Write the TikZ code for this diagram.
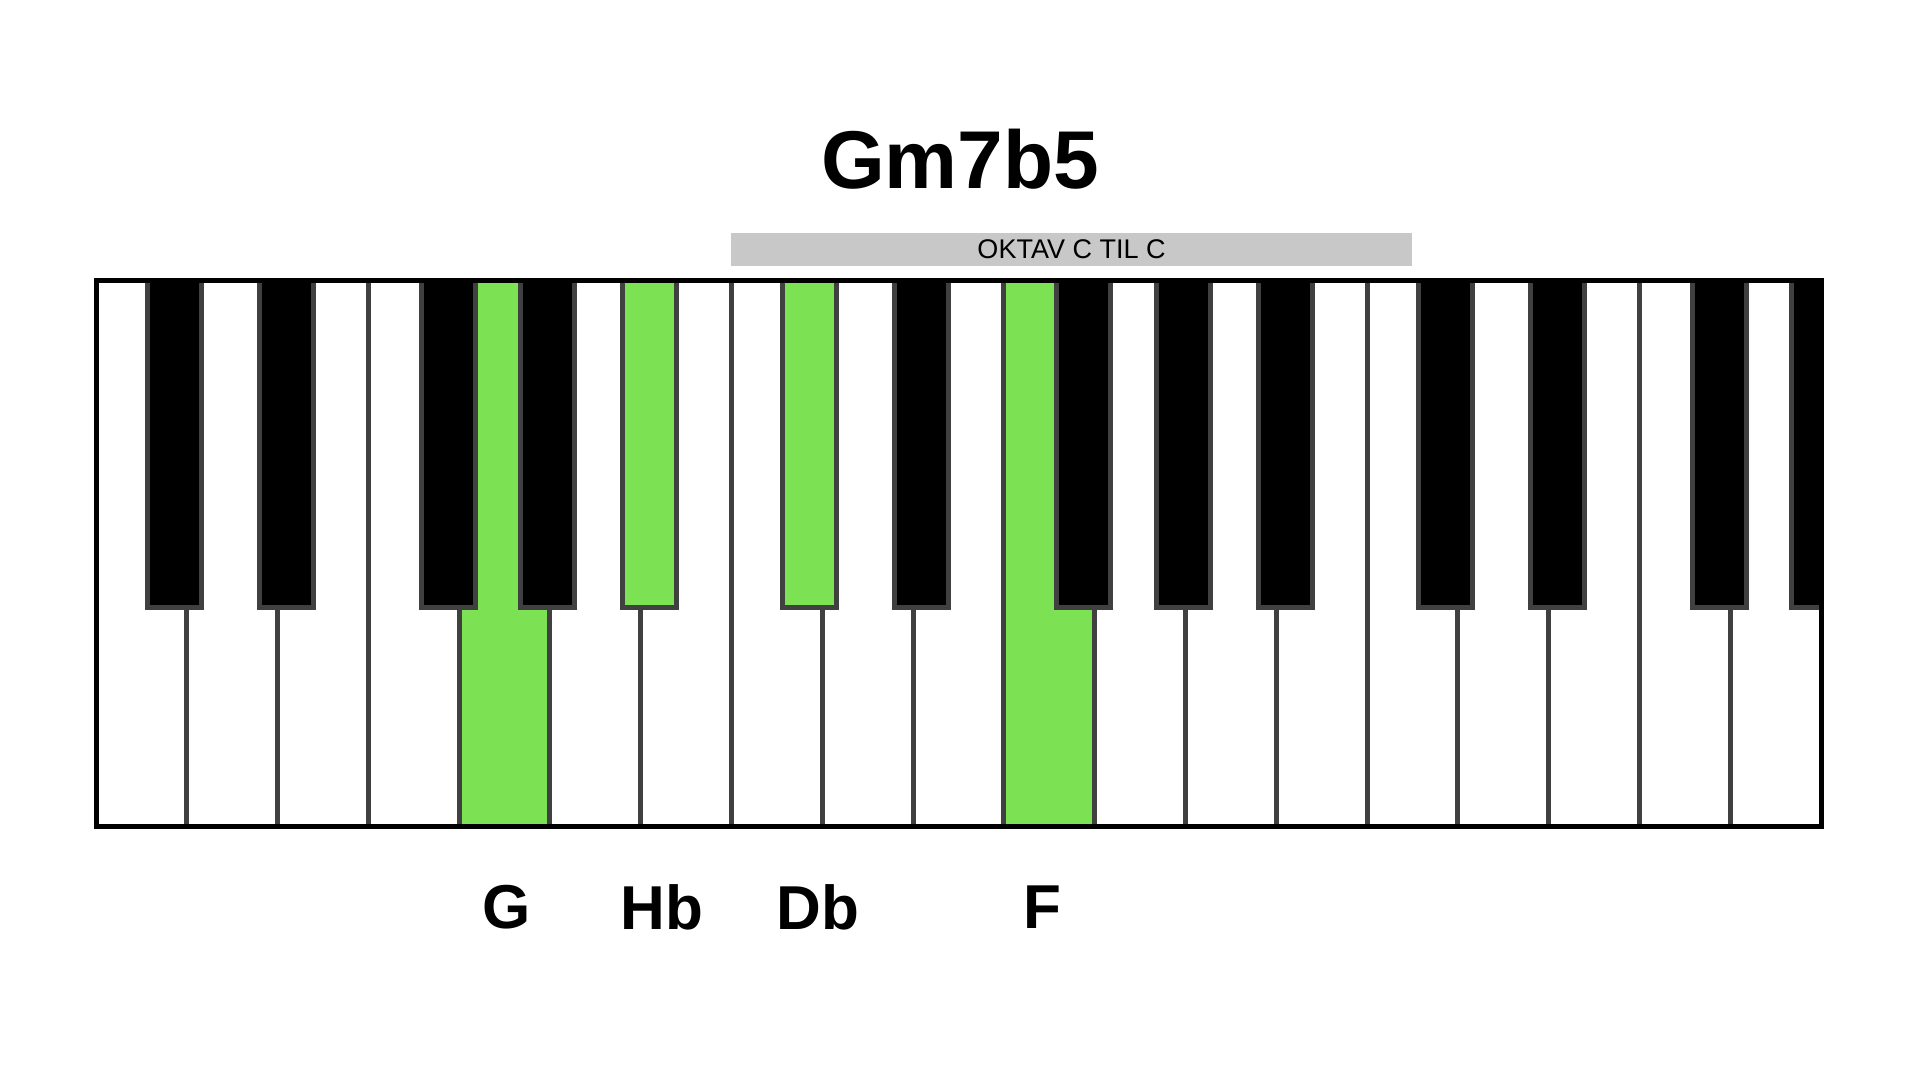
\documentclass[tikz,border=0pt]{standalone}
\usepackage{fontspec}
\setmainfont{Liberation Sans}
\usepackage{tikz}

\definecolor{keygreen}{RGB}{125,226,83}
\definecolor{keyline}{RGB}{64,64,64}
\definecolor{bargray}{RGB}{200,200,200}

\tikzset{
  divider/.style={draw=keyline, line width=5pt},
  blackkey/.style={draw=keyline, line width=5pt, fill=black},
  notelabel/.style={font=\fontsize{62}{62}\selectfont\bfseries, inner sep=0pt},
}

\begin{document}
\begin{tikzpicture}[x=1pt, y=-1pt]
  \useasboundingbox (0,0) rectangle (1920,1080);

  % white keys, G and F marked
  \fill[white] (96,280.5) rectangle (1821,826.5);
  \foreach \k in {4,10}
    \fill[keygreen] ({96+\k*90.79},280.5) rectangle ++(90.79,546);
  \foreach \k in {1,...,18}
    \draw[divider] ({96+\k*90.79},280.5) -- ++(0,546);

  % black keys, Hb and Db marked
  \begin{scope}
    \clip (96,280.5) rectangle (1821,826.5);
    \foreach \k/\dx/\col in {1/-12.5/black, 2/8.7/black, 4/-10.8/black, 5/-2.2/black,
        6/9.2/keygreen, 8/-12.5/keygreen, 9/8.7/black, 11/-10.8/black, 12/-2.2/black,
        13/9.2/black, 15/-12.5/black, 16/8.7/black, 18/-10.8/black, 19/-2.2/black}
      \draw[blackkey, fill=\col] ({96+\k*90.79+\dx-27},276) rectangle ++(54,331.5);
  \end{scope}

  \draw[line width=5pt] (96,280.5) rectangle (1821,826.5);

  \node[font=\fontsize{82}{82}\selectfont\bfseries, inner sep=0pt] (title) at (960,159.5) {Gm7b5};
  \node[fill=bargray, minimum width=681pt, minimum height=32.5pt, inner sep=0pt,
        font=\fontsize{27}{27}\selectfont] (octave) at (1071.5,249.5) {OKTAV C TIL C};

  \node[notelabel] (lblG) at (506.7,907.5) {G};
  \node[notelabel] (lblHb) at (662,907.5) {Hb};
  \node[notelabel] (lblDb) at (818,907.5) {Db};
  \node[notelabel] (lblF) at (1042.5,907.5) {F};
\end{tikzpicture}
\end{document}
